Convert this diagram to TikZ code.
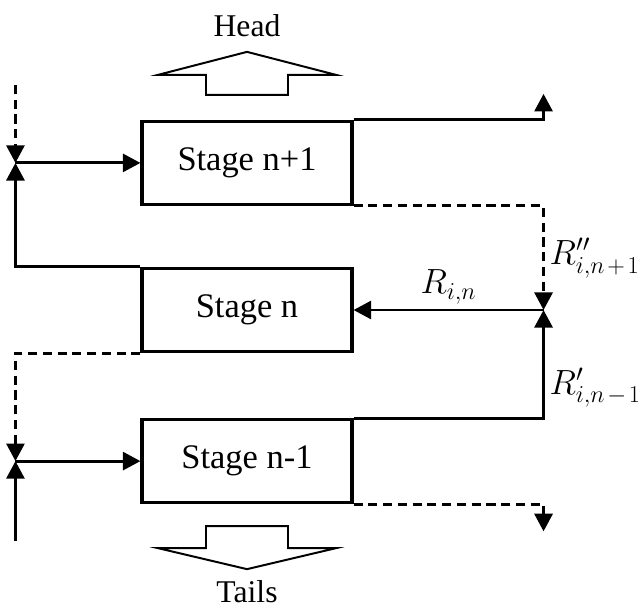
\documentclass[tikz,border=0pt]{standalone}
\usepackage{fontspec}
\setmainfont{Liberation Serif}
\usetikzlibrary{arrows.meta,positioning,calc}

\begin{document}
\begin{tikzpicture}

% Define styles
\tikzstyle{stage} = [rectangle, minimum width=5.25cm, minimum height=2.075cm, text centered, draw=black, line width=2.2pt, font=\fontsize{24.5}{28}\selectfont]
\tikzstyle{flow} = [line width=2.1pt, -{Triangle[length=0.44cm, width=0.45cm]}]
\tikzstyle{recycle} = [flow, dash pattern=on 6.5pt off 4pt]
\tikzstyle{bulk} = [line width=1.4pt, line join=miter, fill=white]
\tikzstyle{rlabel} = [font=\fontsize{24}{28}\selectfont]
\tikzstyle{product} = [font=\fontsize{22.5}{26}\selectfont]

\useasboundingbox (0,0) rectangle (16.075,-15.2);

% STAGES
\node (stage_n) [stage] at (6.175,-7.75) {Stage n};
\node (stage_up) [stage, above=1.525cm of stage_n] {Stage n+1};
\node (stage_down) [stage, below=1.625cm of stage_n] {Stage n-1};

% Junction points
\coordinate (j_up) at ([xshift=-3.125cm]stage_up.west);
\coordinate (j_down) at ([xshift=-3.125cm]stage_down.west);
\coordinate (j_n) at ([xshift=4.75cm]stage_n.east);

% Open ends
\coordinate (feed_up) at ([yshift=1.95cm]j_up);
\coordinate (feed_down) at ([yshift=-2cm]j_down);
\coordinate (out_up) at ($(stage_up.north east -| j_n) + (0,0.65)$);
\coordinate (out_down) at ($(stage_down.south east -| j_n) + (0,-0.68)$);

% Right side streams
\draw [flow] (stage_up.north east) -| (out_up);
\draw [recycle] (stage_up.south east) -| node[pos=0.75, right, rlabel] {$R''_{i,n\mkern2mu+\mkern2mu1}$} (j_n);
\draw [flow] (stage_down.north east) -| node[pos=0.64, right, rlabel] {$R'_{i,n\mkern2mu-\mkern2mu1}$} (j_n);
\draw [flow] (j_n) -- node[above, rlabel] {$R_{i,n}$} (stage_n.east);
\draw [recycle] (stage_down.south east) -| (out_down);

% Left side streams
\draw [flow] (stage_n.north west) -| (j_up);
\draw [recycle] (feed_up) -- (j_up);
\draw [flow] (j_up) -- (stage_up.west);
\draw [recycle] (stage_n.south west) -| (j_down);
\draw [flow] (feed_down) -- (j_down);
\draw [flow] (j_down) -- (stage_down.west);

% Head and tails
\draw [bulk] ($(stage_up.north)+(-2.225,1.125)$) -- ++(2.225,0.575) -- ++(2.225,-0.575) -- ++(-1.2,0) -- ++(0,-0.5) -- ++(-2.05,0) -- ++(0,0.5) -- cycle;
\node (head) [product] at ($(stage_up.north)+(0,2.35)$) {Head};
\draw [bulk] ($(stage_down.south)+(-1.025,-0.55)$) -- ++(2.05,0) -- ++(0,-0.55) -- ++(1.2,0) -- ++(-2.225,-0.525) -- ++(-2.225,0.525) -- ++(1.2,0) -- cycle;
\node (tails) [product] at ($(stage_down.south)+(0,-2.18)$) {Tails};

\end{tikzpicture}
\end{document}
